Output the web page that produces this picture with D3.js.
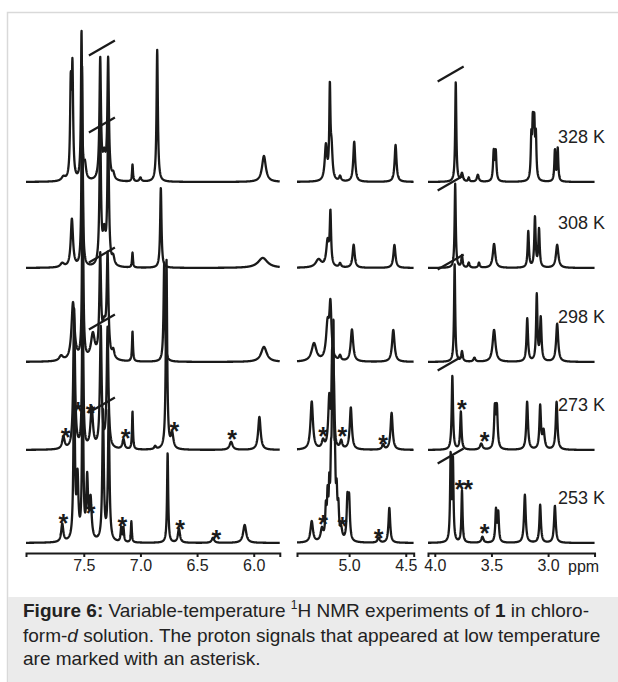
<!DOCTYPE html>
<html>
<head>
<meta charset="utf-8">
<script src="https://cdn.jsdelivr.net/npm/d3@7"></script>
<style>
  body { margin: 0; background: #fff; }
  svg { display: block; font-family: "Liberation Sans", Arial, sans-serif; }
</style>
</head>
<body>
<svg id="chart" width="618" height="682"></svg>
<script>
// temperatures, top to bottom
var temps = ["328 K", "308 K", "298 K", "273 K", "253 K"];

// ppm windows of the three broken axis pieces and their ticks
var panelPpm = [[8.01, 5.77], [5.46, 4.43], [4.06, 2.59]];
var panelTicks = [[7.5, 7.0, 6.5, 6.0], [5.0, 4.5], [4.0, 3.5, 3.0]];

// peak lists: [ppm, height, half width (ppm)]
var peaks328 = [
  [7.68, 4, 0.02], [7.615, 90, 0.007], [7.600, 106, 0.007], [7.52, 148, 0.006], [7.49, 15, 0.012],
  [7.355, 120, 0.008], [7.32, 22, 0.015], [7.285, 120, 0.008], [7.24, 6, 0.012], [7.07, 17, 0.005],
  [7.00, 4, 0.01], [6.852, 132, 0.007], [5.91, 26, 0.02],
  [5.205, 35, 0.012], [5.17, 88, 0.006], [5.155, 30, 0.01], [5.08, 5, 0.01], [4.955, 40, 0.01], [4.59, 37, 0.01],
  [3.815, 100, 0.006], [3.76, 8, 0.01], [3.70, 4, 0.006], [3.62, 7, 0.01],
  [3.48, 29, 0.007], [3.462, 29, 0.007],
  [3.148, 40, 0.006], [3.135, 52, 0.006], [3.122, 52, 0.006], [3.108, 42, 0.006],
  [2.94, 31, 0.006], [2.915, 33, 0.006]
];
var peaks308 = [
  [7.69, 4, 0.02], [7.605, 48, 0.012], [7.515, 200, 0.006],
  [7.355, 136, 0.008], [7.32, 30, 0.015], [7.285, 136, 0.008], [7.24, 8, 0.012], [7.07, 15, 0.005],
  [6.82, 80, 0.007], [5.92, 10, 0.05],
  [5.27, 8, 0.03], [5.19, 25, 0.014], [5.165, 52, 0.007], [5.08, 4, 0.01], [4.96, 23, 0.011], [4.60, 23, 0.011],
  [3.82, 84, 0.006], [3.76, 12, 0.007], [3.70, 5, 0.008], [3.61, 5, 0.008],
  [3.477, 24, 0.013], [3.175, 36, 0.007], [3.116, 50, 0.007], [3.08, 38, 0.007], [2.92, 23, 0.013]
];
var peaks298 = [
  [7.70, 5, 0.02], [7.595, 58, 0.016], [7.51, 210, 0.006], [7.42, 25, 0.02],
  [7.355, 98, 0.009], [7.32, 30, 0.02], [7.29, 98, 0.009], [7.24, 8, 0.012], [7.07, 30, 0.005],
  [6.79, 100, 0.007], [5.91, 15, 0.03],
  [5.31, 18, 0.025], [5.19, 35, 0.016], [5.165, 52, 0.011], [5.08, 5, 0.01], [4.975, 32, 0.013], [4.61, 32, 0.013],
  [3.825, 98, 0.006], [3.76, 10, 0.008], [3.65, 4, 0.01],
  [3.477, 32, 0.015], [3.184, 43, 0.008], [3.10, 66, 0.007], [3.065, 43, 0.008], [2.92, 38, 0.011]
];
var peaks273 = [
  [7.68, 12, 0.013], [7.585, 140, 0.009], [7.51, 180, 0.006], [7.43, 40, 0.013],
  [7.35, 120, 0.009], [7.29, 120, 0.009], [7.15, 10, 0.011], [7.07, 38, 0.005], [6.87, 3, 0.01],
  [6.77, 190, 0.007], [6.72, 15, 0.013], [6.20, 8, 0.016], [5.95, 33, 0.013],
  [5.33, 48, 0.013], [5.23, 8, 0.013], [5.175, 50, 0.011], [5.15, 85, 0.006], [5.135, 60, 0.006], [5.07, 8, 0.011],
  [4.985, 42, 0.011], [4.70, 5, 0.011], [4.625, 37, 0.011],
  [3.845, 74, 0.007], [3.77, 38, 0.007], [3.59, 6, 0.013], [3.47, 40, 0.008], [3.452, 40, 0.008],
  [3.185, 48, 0.009], [3.07, 43, 0.008], [3.04, 18, 0.011], [2.925, 48, 0.009]
];
var peaks253 = [
  [7.69, 18, 0.011], [7.585, 180, 0.007], [7.555, 60, 0.009], [7.51, 200, 0.006], [7.47, 60, 0.009],
  [7.44, 40, 0.011], [7.33, 130, 0.008], [7.28, 130, 0.008], [7.17, 14, 0.006], [7.15, 14, 0.006],
  [7.08, 21, 0.005], [6.76, 90, 0.006], [6.66, 14, 0.011], [6.36, 5, 0.013], [6.08, 18, 0.016],
  [5.33, 21, 0.013], [5.24, 12, 0.013], [5.205, 30, 0.007], [5.19, 38, 0.006], [5.175, 45, 0.006],
  [5.16, 60, 0.006], [5.148, 150, 0.005], [5.138, 175, 0.005], [5.125, 60, 0.006], [5.11, 40, 0.007],
  [5.095, 28, 0.007], [5.07, 10, 0.011], [5.015, 40, 0.008],
  [5.00, 40, 0.008], [4.74, 5, 0.011], [4.645, 35, 0.009],
  [3.86, 85, 0.006], [3.84, 80, 0.006], [3.76, 52, 0.006], [3.58, 6, 0.011], [3.46, 32, 0.007],
  [3.44, 29, 0.007], [3.205, 48, 0.009], [3.07, 38, 0.008], [2.94, 37, 0.009]
];
var spectra = [peaks328, peaks308, peaks298, peaks273, peaks253];

// asterisks: [spectrum index, ppm, height above baseline]
var stars = [
  [3, 7.66, 19], [3, 7.55, 45], [3, 7.44, 43], [3, 7.13, 18], [3, 6.70, 25], [3, 6.19, 17],
  [3, 5.23, 20], [3, 5.06, 20], [3, 4.70, 12],
  [3, 3.76, 47], [3, 3.56, 15],
  [4, 7.68, 26], [4, 7.44, 36], [4, 7.16, 23], [4, 6.65, 20], [4, 6.33, 10],
  [4, 5.23, 25], [4, 5.06, 23], [4, 4.74, 11],
  [4, 3.78, 60], [4, 3.705, 60], [4, 3.56, 16]
];

// break marks on truncated peaks: [spectrum index, ppm, height above baseline]
var breaks = [
  [0, 7.34, 134], [1, 7.34, 143], [2, 7.34, 107], [3, 7.34, 128], [4, 7.34, 138],
  [0, 3.86, 108], [1, 3.86, 85], [2, 3.86, 100], [3, 3.86, 87], [4, 3.86, 87]
];

var svg = d3.select("#chart");
var ink = "#1a1a1a";

// frame and caption box
svg.append("rect").attr("x", 7.5).attr("y", 12.5).attr("width", 640).attr("height", 700)
  .attr("fill", "#fff").attr("stroke", "#d9d9d9").attr("stroke-width", 1.5);
svg.append("rect").attr("x", 8).attr("y", 597).attr("width", 640).attr("height", 100)
  .attr("fill", "#ebebeb");

var baselines = [182, 268, 362, 450, 543];
var axisY = 553;
var pxPerPpm = 113.3;
var panelX = [26, 297, 428];

var xScales = panelPpm.map(function(r, i) {
  return d3.scaleLinear().domain(r).range([panelX[i], panelX[i] + (r[0] - r[1]) * pxPerPpm]);
});
var yScales = baselines.map(function(b) {
  return d3.scaleLinear().domain([0, 100]).range([b, b - 100]);
});

function intensity(peaks, ppm) {
  var s = 0;
  peaks.forEach(function(p) {
    var u = (ppm - p[0]) / p[2];
    s += p[1] / (1 + u * u);
  });
  return s;
}

var g = svg.append("g");

spectra.forEach(function(peaks, si) {
  xScales.forEach(function(xs, pi) {
    var r = panelPpm[pi];
    var pts = d3.range(r[0], r[1] - 0.0005, -0.0015).map(function(v) {
      return [v, intensity(peaks, v)];
    });
    var line = d3.line()
      .x(function(d) { return xs(d[0]); })
      .y(function(d) { return yScales[si](d[1]); });
    g.append("path").attr("d", line(pts))
      .attr("fill", "none").attr("stroke", ink).attr("stroke-width", 2.3)
      .attr("stroke-linejoin", "round");
  });
});

function scaleFor(ppm) {
  for (var i = 0; i < panelPpm.length; i++) {
    if (ppm <= panelPpm[i][0] && ppm >= panelPpm[i][1]) return xScales[i];
  }
  return xScales[0];
}

// break marks
breaks.forEach(function(b) {
  var x = scaleFor(b[1])(b[1]);
  var y = yScales[b[0]](b[2]);
  g.append("line").attr("x1", x - 13).attr("y1", y + 7.5).attr("x2", x + 13).attr("y2", y - 7.5)
    .attr("stroke", ink).attr("stroke-width", 2.2);
});

// asterisks
g.selectAll("text.star").data(stars).enter().append("text")
  .attr("class", "star")
  .attr("x", function(d) { return scaleFor(d[1])(d[1]); })
  .attr("y", function(d) { return yScales[d[0]](d[2]) + 15; })
  .attr("text-anchor", "middle")
  .attr("font-size", 25).attr("font-weight", "bold").attr("fill", ink)
  .text("*");

// axes
xScales.forEach(function(xs, i) {
  var ax = svg.append("g").attr("transform", "translate(0," + axisY + ")")
    .call(d3.axisBottom(xs).tickValues(panelTicks[i]).tickSize(4).tickSizeOuter(4)
      .tickFormat(d3.format(".1f")));
  ax.select(".domain").attr("stroke", ink).attr("stroke-width", 2);
  ax.selectAll(".tick line").attr("stroke", ink).attr("stroke-width", 2);
  ax.selectAll("text").attr("font-size", 16).attr("fill", "#222")
    .attr("font-family", "Liberation Sans, Arial, sans-serif");
});
svg.append("text").attr("x", 568).attr("y", 572).attr("font-size", 16).attr("fill", "#222").text("ppm");

// temperature labels
temps.forEach(function(t, i) {
  svg.append("text").attr("x", 558).attr("y", baselines[i] - 39)
    .attr("font-size", 18).attr("fill", "#222").text(t);
});

// caption
var cap = svg.append("text").attr("font-size", 19).attr("fill", "#222");
var l1 = cap.append("tspan").attr("x", 23).attr("y", 617);
l1.append("tspan").attr("font-weight", "bold").text("Figure 6:");
l1.append("tspan").text(" Variable-temperature ");
l1.append("tspan").attr("font-size", 12).attr("dy", -8).text("1");
l1.append("tspan").attr("dy", 8).text("H NMR experiments of ");
l1.append("tspan").attr("font-weight", "bold").text("1");
l1.append("tspan").text(" in chloro-");
var l2 = cap.append("tspan").attr("x", 23).attr("y", 642);
l2.append("tspan").text("form-");
l2.append("tspan").attr("font-style", "italic").text("d");
l2.append("tspan").text(" solution. The proton signals that appeared at low temperature");
cap.append("tspan").attr("x", 23).attr("y", 665).text("are marked with an asterisk.");
</script>
</body>
</html>
